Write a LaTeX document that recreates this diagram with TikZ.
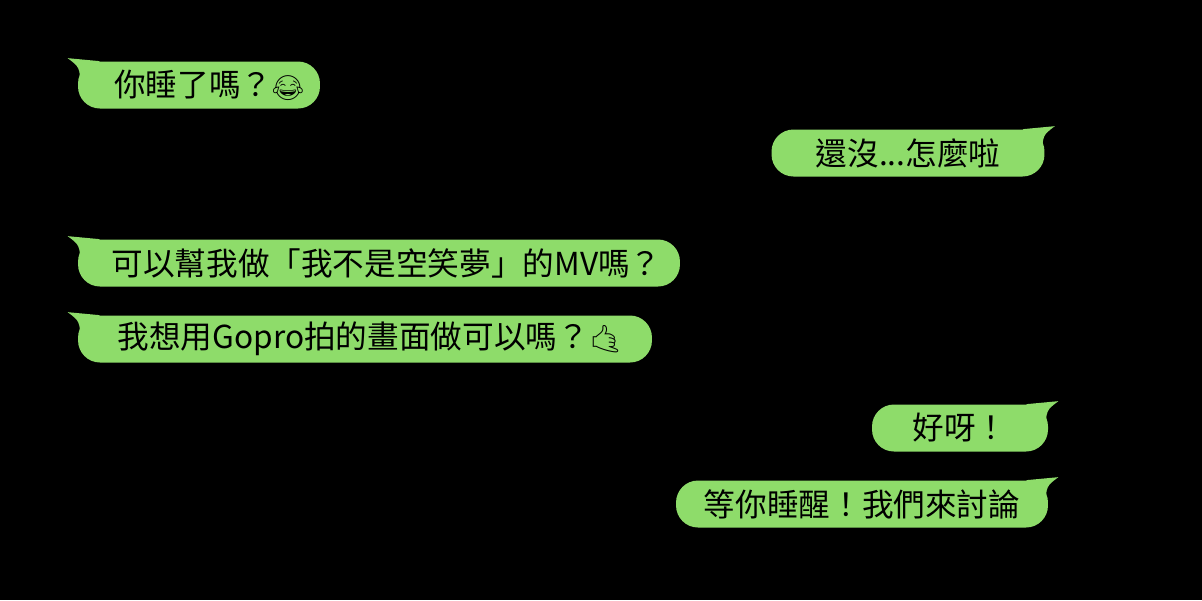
\documentclass[tikz,border=0pt]{standalone}
\usepackage{fontspec}
\setmainfont{Noto Sans CJK TC}
\newfontfamily\emojifont{Noto Emoji}
\usetikzlibrary{calc,positioning}
\definecolor{BubbleGreen}{HTML}{8EDC6A}

\tikzset{
  bubble/.style={fill=BubbleGreen, rounded corners=12.5pt, minimum height=0.94cm,
    inner sep=0pt, font=\fontsize{18}{18}\selectfont, text=black},
}

\begin{document}
\begin{tikzpicture}[x=0.02cm,y=-0.02cm]
  \fill[black] (0,0) rectangle (1202,600);
  \useasboundingbox (0,0) rectangle (1202,600);

  % messages on the left
  \node[bubble, minimum width=4.84cm] (ask) at (199,85) {\hspace{0.4cm}你睡了嗎？{\emojifont\fontsize{14}{14}\selectfont 😂}};
  \node[bubble, minimum width=12.04cm] (mv) at (379,263) {\hspace{0.3cm}可以幫我做「我不是空笑夢」的MV嗎？};
  \node[bubble, minimum width=11.48cm] (gopro) at (365,339) {\hspace{0.2cm}我想用Gopro拍的畫面做可以嗎？{\emojifont\fontsize{15}{15}\selectfont 🤙}};

  % messages on the right
  \node[bubble, minimum width=5.46cm] (notyet) at (908,153) {還沒...怎麼啦};
  \node[bubble, minimum width=3.52cm] (ok) at (960,428) {好呀！};
  \node[bubble, minimum width=7.44cm] (wake) at (862,504) {等你睡醒！我們來討論};

  % tails
  \foreach \b in {ask,mv,gopro}
    \fill[BubbleGreen] ($(\b.north west)+(22,0)$) -- ($(\b.north west)+(-10,-3)$)
      .. controls ($(\b.north west)+(2,6)$) .. ($(\b.north west)+(3,26)$) -- cycle;
  \foreach \b in {notyet,ok,wake}
    \fill[BubbleGreen] ($(\b.north east)+(-22,0)$) -- ($(\b.north east)+(10,-3)$)
      .. controls ($(\b.north east)+(-2,6)$) .. ($(\b.north east)+(-3,26)$) -- cycle;
\end{tikzpicture}
\end{document}
